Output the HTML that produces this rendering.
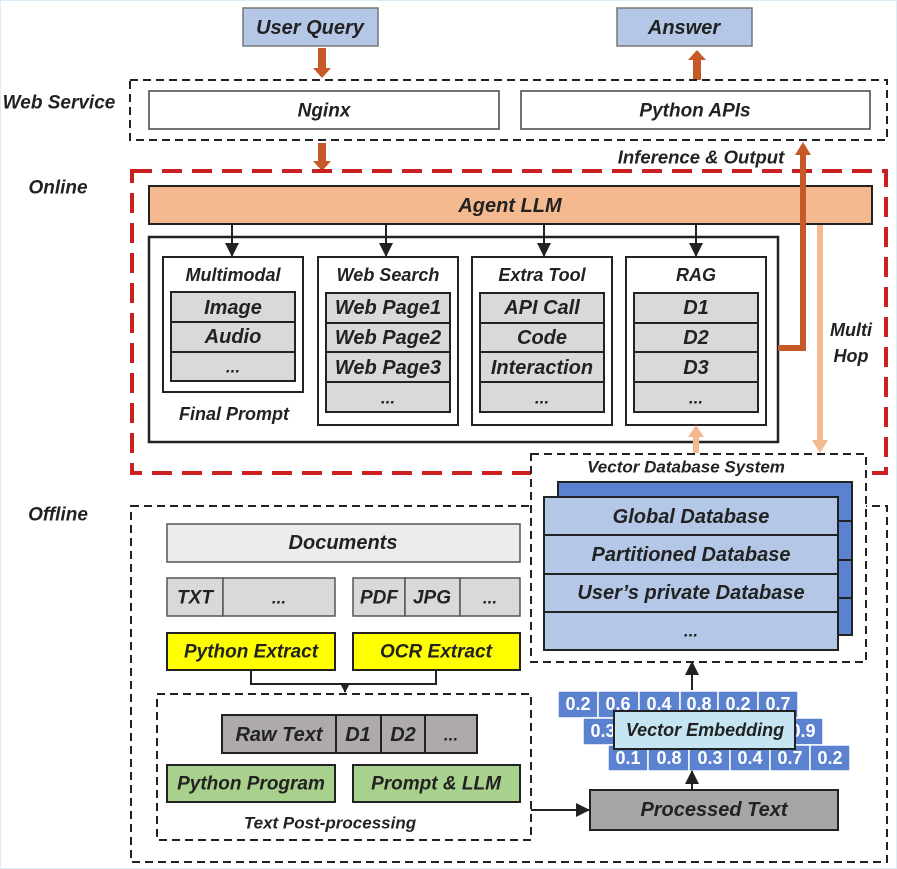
<!DOCTYPE html>
<html><head><meta charset="utf-8"><style>
html,body{margin:0;padding:0;background:#fff}
svg{display:block}
text{font-family:"Liberation Sans",sans-serif;font-weight:bold;font-style:italic;fill:#222;text-anchor:middle;dominant-baseline:central}
</style></head><body>
<svg width="897" height="869" viewBox="0 0 897 869" xmlns="http://www.w3.org/2000/svg">
<defs>
<marker id="ab" markerWidth="8" markerHeight="8" refX="7" refY="4" orient="auto" markerUnits="userSpaceOnUse"><path d="M0,0 L8,4 L0,8z" fill="#222"/></marker>
<marker id="ab2" markerWidth="14" markerHeight="14" refX="13" refY="7" orient="auto" markerUnits="userSpaceOnUse"><path d="M0,0 L14,7 L0,14z" fill="#222"/></marker>
</defs>
<rect x="0.5" y="0.5" width="896" height="868" fill="none" stroke="#dbeef7"/>
<!-- top -->
<rect x="243" y="8" width="135" height="38" fill="#b4c7e7" stroke="#777" stroke-width="1.5"/><text x="310" y="28" font-size="20">User Query</text>
<rect x="617" y="8" width="135" height="38" fill="#b4c7e7" stroke="#777" stroke-width="1.5"/><text x="684" y="28" font-size="20">Answer</text>
<path d="M318,48 h8 v20 h5 l-9,10 l-9,-10 h5z" fill="#c55a28"/>
<path d="M693,80 h8 v-20 h5 l-9,-10 l-9,10 h5z" fill="#c55a28"/>
<path d="M318,143 h8 v18 h5 l-9,10 l-9,-10 h5z" fill="#c55a28"/>
<!-- web service -->
<text x="59" y="103" font-size="19">Web Service</text>
<rect x="130" y="80" width="757" height="60" fill="none" stroke="#222" stroke-width="2" stroke-dasharray="8,5"/>
<rect x="149" y="91" width="350" height="38" fill="#fff" stroke="#444" stroke-width="1.5"/><text x="324" y="111" font-size="19">Nginx</text>
<rect x="521" y="91" width="349" height="38" fill="#fff" stroke="#444" stroke-width="1.5"/><text x="695" y="111" font-size="19">Python APIs</text>
<text x="701" y="157" font-size="18.5">Inference &amp; Output</text>
<!-- online -->
<text x="58" y="188" font-size="19">Online</text>
<rect x="132" y="171" width="754" height="302" fill="none" stroke="#cc1f1f" stroke-width="4" stroke-dasharray="20,10"/>
<rect x="149" y="186" width="723" height="38" fill="#f4b98e" stroke="#222" stroke-width="2"/><text x="510" y="206" font-size="20">Agent LLM</text>
<rect x="149" y="237" width="629" height="205" fill="#fff" stroke="#222" stroke-width="2.5"/>
<g stroke="#222" stroke-width="2" marker-end="url(#ab2)"><line x1="232" y1="224" x2="232" y2="256"/><line x1="386" y1="224" x2="386" y2="256"/><line x1="544" y1="224" x2="544" y2="256"/><line x1="696" y1="224" x2="696" y2="256"/></g>
<!-- columns -->
<g stroke="#222" stroke-width="2">
<rect x="163" y="257" width="140" height="135" fill="#fff"/>
<rect x="318" y="257" width="140" height="168" fill="#fff"/>
<rect x="472" y="257" width="140" height="168" fill="#fff"/>
<rect x="626" y="257" width="140" height="168" fill="#fff"/>
<g fill="#d9d9d9">
<rect x="171" y="292" width="124" height="30"/><rect x="171" y="322" width="124" height="30"/><rect x="171" y="352" width="124" height="29"/>
<rect x="326" y="293" width="124" height="30"/><rect x="326" y="323" width="124" height="29"/><rect x="326" y="352" width="124" height="30"/><rect x="326" y="382" width="124" height="30"/>
<rect x="480" y="293" width="124" height="30"/><rect x="480" y="323" width="124" height="29"/><rect x="480" y="352" width="124" height="30"/><rect x="480" y="382" width="124" height="30"/>
<rect x="634" y="293" width="124" height="30"/><rect x="634" y="323" width="124" height="29"/><rect x="634" y="352" width="124" height="30"/><rect x="634" y="382" width="124" height="30"/>
</g></g>
<text x="233" y="275" font-size="18">Multimodal</text><text x="233" y="308" font-size="20">Image</text><text x="233" y="337" font-size="20">Audio</text><text x="233" y="367" font-size="17">...</text>
<text x="234" y="414" font-size="18">Final Prompt</text>
<text x="388" y="275" font-size="18">Web Search</text><text x="388" y="308" font-size="20">Web Page1</text><text x="388" y="338" font-size="20">Web Page2</text><text x="388" y="368" font-size="20">Web Page3</text><text x="388" y="398" font-size="17">...</text>
<text x="542" y="275" font-size="18">Extra Tool</text><text x="542" y="308" font-size="20">API Call</text><text x="542" y="338" font-size="20">Code</text><text x="542" y="368" font-size="20">Interaction</text><text x="542" y="398" font-size="17">...</text>
<text x="696" y="275" font-size="18">RAG</text><text x="696" y="308" font-size="20">D1</text><text x="696" y="338" font-size="20">D2</text><text x="696" y="368" font-size="20">D3</text><text x="696" y="398" font-size="17">...</text>
<!-- orange connectors -->
<polyline points="778,348 803,348 803,154" fill="none" stroke="#c55a28" stroke-width="6"/>
<path d="M795,155 l8,-13 l8,13z" fill="#c55a28"/>
<line x1="820" y1="225" x2="820" y2="442" stroke="#f4b98e" stroke-width="6"/>
<path d="M812,440 l8,13 l8,-13z" fill="#f4b98e"/>
<line x1="696" y1="453" x2="696" y2="435" stroke="#f4b98e" stroke-width="6"/>
<path d="M688,437 l8,-12 l8,12z" fill="#f4b98e"/>
<text x="851" y="330" font-size="18">Multi</text><text x="851" y="356" font-size="18">Hop</text>
<!-- offline -->
<text x="58" y="515" font-size="19">Offline</text>
<rect x="131" y="506" width="756" height="356" fill="none" stroke="#222" stroke-width="2" stroke-dasharray="8,5"/>
<!-- vector db -->
<rect x="531" y="454" width="335" height="208" fill="#fff" stroke="#222" stroke-width="2" stroke-dasharray="8,5"/>
<text x="686" y="467" font-size="17">Vector Database System</text>
<g stroke="#222" stroke-width="2">
<rect x="558" y="482" width="294" height="153" fill="#5b82d0"/>
<line x1="838" y1="521" x2="852" y2="521"/><line x1="838" y1="560" x2="852" y2="560"/><line x1="838" y1="598" x2="852" y2="598"/>
<g fill="#b4c7e7"><rect x="544" y="497" width="294" height="38"/><rect x="544" y="535" width="294" height="39"/><rect x="544" y="574" width="294" height="38"/><rect x="544" y="612" width="294" height="38"/></g>
</g>
<text x="691" y="517" font-size="20">Global Database</text><text x="691" y="555" font-size="20">Partitioned Database</text><text x="691" y="593" font-size="20">User’s private Database</text><text x="691" y="631" font-size="17">...</text>
<!-- documents -->
<g stroke="#555" stroke-width="1.5">
<rect x="167" y="524" width="353" height="38" fill="#ececec"/>
<rect x="167" y="578" width="56" height="38" fill="#d9d9d9"/><rect x="223" y="578" width="112" height="38" fill="#d9d9d9"/>
<rect x="353" y="578" width="52" height="38" fill="#d9d9d9"/><rect x="405" y="578" width="55" height="38" fill="#d9d9d9"/><rect x="460" y="578" width="60" height="38" fill="#d9d9d9"/>
</g>
<text x="343" y="543" font-size="20">Documents</text>
<text x="195" y="598" font-size="19">TXT</text><text x="279" y="598" font-size="17">...</text><text x="379" y="598" font-size="19">PDF</text><text x="432" y="598" font-size="19">JPG</text><text x="490" y="598" font-size="17">...</text>
<rect x="167" y="633" width="168" height="37" fill="#ffff00" stroke="#222" stroke-width="2"/><text x="251" y="652" font-size="19">Python Extract</text>
<rect x="353" y="633" width="167" height="37" fill="#ffff00" stroke="#222" stroke-width="2"/><text x="436" y="652" font-size="19">OCR Extract</text>
<polyline points="251,670 251,684 436,684 436,670" fill="none" stroke="#222" stroke-width="2"/>
<line x1="345" y1="684" x2="345" y2="692" stroke="#222" stroke-width="2" marker-end="url(#ab)"/>
<!-- post-processing -->
<rect x="157" y="694" width="374" height="146" fill="none" stroke="#222" stroke-width="2" stroke-dasharray="8,5"/>
<g stroke="#222" stroke-width="2" fill="#aeaaaa">
<rect x="222" y="715" width="114" height="38"/><rect x="336" y="715" width="45" height="38"/><rect x="381" y="715" width="44" height="38"/><rect x="425" y="715" width="52" height="38"/>
</g>
<text x="279" y="735" font-size="20">Raw Text</text><text x="358" y="735" font-size="20">D1</text><text x="403" y="735" font-size="20">D2</text><text x="451" y="735" font-size="17">...</text>
<rect x="167" y="765" width="168" height="37" fill="#a9d18e" stroke="#222" stroke-width="2"/><text x="251" y="784" font-size="19">Python Program</text>
<rect x="353" y="765" width="167" height="37" fill="#a9d18e" stroke="#222" stroke-width="2"/><text x="436" y="784" font-size="19">Prompt &amp; LLM</text>
<text x="330" y="823" font-size="17">Text Post-processing</text>
<line x1="531" y1="810" x2="589" y2="810" stroke="#222" stroke-width="2" marker-end="url(#ab2)"/>
<rect x="590" y="790" width="248" height="40" fill="#a6a6a6" stroke="#222" stroke-width="2"/><text x="714" y="810" font-size="20">Processed Text</text>
<line x1="692" y1="690" x2="692" y2="662" stroke="#222" stroke-width="2" marker-end="url(#ab2)"/>
<!-- vector tiles -->
<g fill="#5b82d0" stroke="#fff" stroke-width="1.5">
<rect x="558" y="691" width="40" height="27"/><rect x="598" y="691" width="41" height="27"/><rect x="639" y="691" width="41" height="27"/><rect x="680" y="691" width="38" height="27"/><rect x="718" y="691" width="40" height="27"/><rect x="758" y="691" width="40" height="27"/>
<rect x="583" y="718" width="40" height="27"/><rect x="623" y="718" width="41" height="27"/><rect x="664" y="718" width="41" height="27"/><rect x="705" y="718" width="38" height="27"/><rect x="743" y="718" width="40" height="27"/><rect x="783" y="718" width="40" height="27"/>
<rect x="608" y="745" width="40" height="26"/><rect x="648" y="745" width="41" height="26"/><rect x="689" y="745" width="41" height="26"/><rect x="730" y="745" width="40" height="26"/><rect x="770" y="745" width="40" height="26"/><rect x="810" y="745" width="40" height="26"/>
</g>
<g font-size="18">
<text x="578" y="704" style="fill:#fff;font-style:normal">0.2</text><text x="618" y="704" style="fill:#fff;font-style:normal">0.6</text><text x="659" y="704" style="fill:#fff;font-style:normal">0.4</text><text x="699" y="704" style="fill:#fff;font-style:normal">0.8</text><text x="738" y="704" style="fill:#fff;font-style:normal">0.2</text><text x="778" y="704" style="fill:#fff;font-style:normal">0.7</text>
<text x="603" y="731" style="fill:#fff;font-style:normal">0.3</text><text x="803" y="731" style="fill:#fff;font-style:normal">0.9</text>
<text x="628" y="758" style="fill:#fff;font-style:normal">0.1</text><text x="669" y="758" style="fill:#fff;font-style:normal">0.8</text><text x="710" y="758" style="fill:#fff;font-style:normal">0.3</text><text x="750" y="758" style="fill:#fff;font-style:normal">0.4</text><text x="790" y="758" style="fill:#fff;font-style:normal">0.7</text><text x="830" y="758" style="fill:#fff;font-style:normal">0.2</text>
</g>
<rect x="614" y="711" width="181" height="38" fill="#c5e5f3" stroke="#222" stroke-width="2"/><text x="705" y="730" font-size="18">Vector Embedding</text>
<line x1="692" y1="790" x2="692" y2="771" stroke="#222" stroke-width="2" marker-end="url(#ab2)"/>
</svg>
</body></html>
